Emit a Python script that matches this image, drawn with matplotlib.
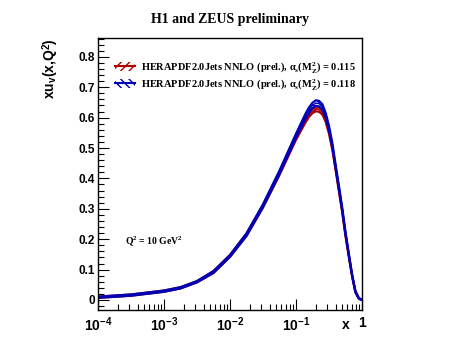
import numpy as np
import matplotlib
matplotlib.use("Agg")
import matplotlib.pyplot as plt
from matplotlib.patches import Patch
from matplotlib.lines import Line2D
from matplotlib.ticker import FixedLocator, MultipleLocator, NullFormatter, FuncFormatter

plt.rcParams['mathtext.fontset'] = 'custom'
plt.rcParams['mathtext.rm'] = 'Liberation Serif:bold'
plt.rcParams['mathtext.it'] = 'Liberation Serif:bold'
plt.rcParams['mathtext.bf'] = 'Liberation Serif:bold'
plt.rcParams['mathtext.sf'] = 'Liberation Sans:bold'
plt.rcParams['hatch.linewidth'] = 1.0

# ---- data ----
x_vals = [1e-4, 3.16e-4, 1e-3, 1.78e-3, 3.16e-3, 5.62e-3, 1e-2, 1.78e-2, 3.16e-2,
          5.62e-2, 0.1, 0.126, 0.141, 0.158, 0.178, 0.2, 0.224, 0.251, 0.282, 0.316,
          0.355, 0.398, 0.447, 0.501, 0.562, 0.631, 0.708, 0.794, 0.891, 0.955]
red_central = [0.009, 0.016, 0.029, 0.040, 0.060, 0.092, 0.145, 0.215, 0.308, 0.416,
               0.533, 0.573, 0.593, 0.610, 0.622, 0.628, 0.626, 0.617, 0.592, 0.553,
               0.500, 0.432, 0.362, 0.292, 0.214, 0.145, 0.079, 0.027, 0.006, 0.002]
red_err = [0.002, 0.002, 0.002, 0.002, 0.002, 0.003, 0.003, 0.004, 0.004, 0.005,
           0.006, 0.006, 0.007, 0.007, 0.007, 0.007, 0.007, 0.007, 0.006, 0.006,
           0.006, 0.005, 0.005, 0.004, 0.004, 0.003, 0.002, 0.002, 0.001, 0.001]
blue_central = [0.009, 0.016, 0.029, 0.040, 0.060, 0.092, 0.145, 0.215, 0.310, 0.420,
                0.540, 0.585, 0.607, 0.625, 0.640, 0.648, 0.646, 0.635, 0.607, 0.565,
                0.510, 0.440, 0.370, 0.300, 0.220, 0.150, 0.082, 0.028, 0.006, 0.002]
blue_err = [0.002, 0.002, 0.002, 0.002, 0.002, 0.003, 0.003, 0.004, 0.005, 0.006,
            0.007, 0.008, 0.008, 0.009, 0.009, 0.009, 0.009, 0.009, 0.008, 0.008,
            0.007, 0.006, 0.006, 0.005, 0.004, 0.003, 0.002, 0.002, 0.001, 0.001]

labels = [r"HERAPDF2.0Jets NNLO (prel.), $\alpha_\mathrm{s}(\mathrm{M_Z^2})$ = 0.115",
          r"HERAPDF2.0Jets NNLO (prel.), $\alpha_\mathrm{s}(\mathrm{M_Z^2})$ = 0.118"]
colors = ['#b00000', '#0000b4']
hatches = ['////', '\\\\\\\\']
xtick_vals = [1e-4, 1e-3, 1e-2, 1e-1, 1]
xtick_labels = [r"$\mathsf{10^{-4}}$", r"$\mathsf{10^{-3}}$", r"$\mathsf{10^{-2}}$",
                r"$\mathsf{10^{-1}}$", "1"]

fig = plt.figure(figsize=(4.57, 3.42), dpi=100)
ax = fig.add_axes([98/457, 1-310/342, (362-98)/457, (310-38)/342])

x = np.array(x_vals)
for cen, err, col, h in [(red_central, red_err, colors[0], hatches[0]),
                         (blue_central, blue_err, colors[1], hatches[1])]:
    cen = np.array(cen); err = np.array(err)
    ax.fill_between(x, cen - err, cen + err, facecolor='none', edgecolor=col,
                    hatch=h, linewidth=0)
    ax.plot(x, cen + err, color=col, lw=1.6, solid_joinstyle='round')
    ax.plot(x, cen - err, color=col, lw=1.6, solid_joinstyle='round')
    ax.plot(x, cen, color=col, lw=1.0)

ax.set_xscale('log')
ax.set_xlim(1e-4, 1)
ax.set_ylim(-0.033, 0.862)

ax.xaxis.set_major_locator(FixedLocator(xtick_vals))
ax.set_xticklabels(xtick_labels)
ax.xaxis.set_minor_locator(FixedLocator([m * 10.0**e for e in range(-4, 0) for m in range(2, 10)]))
ax.xaxis.set_minor_formatter(NullFormatter())
ax.yaxis.set_major_locator(MultipleLocator(0.1))
ax.yaxis.set_minor_locator(MultipleLocator(0.02))
ax.yaxis.set_major_formatter(FuncFormatter(lambda v, p: "0" if abs(v) < 1e-9 else f"{v:.1f}"))

ax.tick_params(which='both', direction='in', top=False, right=False)
ax.tick_params(which='major', length=8, width=0.8)
ax.tick_params(which='minor', length=4, width=0.8)
ax.tick_params(axis='y', labelsize=8.5, pad=2)
ax.tick_params(axis='x', labelsize=10, pad=4)
for lab in ax.get_yticklabels():
    lab.set_fontfamily('Liberation Sans'); lab.set_fontweight('bold')
for lab in ax.get_xticklabels():
    lab.set_fontfamily('Liberation Sans'); lab.set_fontweight('bold')
for s in ax.spines.values():
    s.set_linewidth(1.0)

fig.text(51/457, 1-38/342, r"xu$_\mathsf{v}$(x,Q$^\mathsf{2}$)", rotation=90,
         ha='center', va='top', fontsize=10, fontfamily='Liberation Sans', fontweight='bold')
fig.text(350/457, 1-325/342, "x", ha='right', va='center', fontsize=10,
         fontfamily='Liberation Sans', fontweight='bold')

fig.text(230/457, 1-19/342, "H1 and ZEUS preliminary", ha='center', va='center',
         fontsize=10, fontfamily='Liberation Serif', fontweight='bold')

fig.text(125/457, 1-241/342, r"Q$^\mathrm{2}$ = 10 GeV$^\mathrm{2}$",
         ha='left', va='center', fontsize=7, fontfamily='Liberation Serif', fontweight='bold')

handles = []
for col, h in zip(colors, hatches):
    handles.append((Patch(facecolor='none', edgecolor=col, hatch=h, linewidth=0),
                    Line2D([], [], color=col, lw=1.5)))
leg = ax.legend(handles, labels, loc='upper left', bbox_to_anchor=(115/457, 1-60/342),
                bbox_transform=fig.transFigure, frameon=False,
                prop={'family': 'Liberation Serif', 'weight': 'bold', 'size': 7.5},
                handlelength=1.9, handleheight=1.0, handletextpad=0.55, labelspacing=0.25,
                borderpad=0, borderaxespad=0)

fig.savefig("out.png", dpi=100)
